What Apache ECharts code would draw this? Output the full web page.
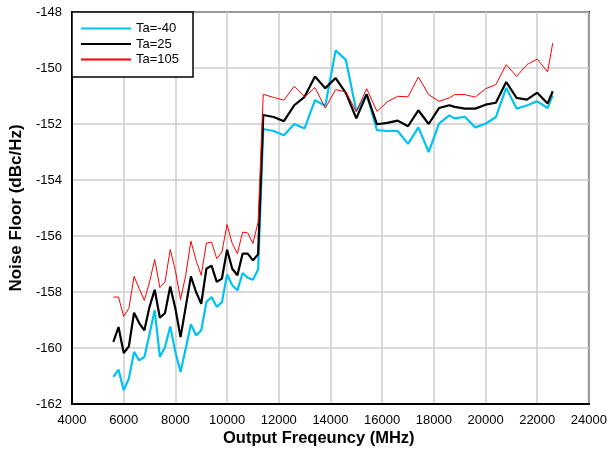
<!DOCTYPE html>
<html>
<head>
<meta charset="utf-8">
<script src="https://cdn.jsdelivr.net/npm/echarts@6/dist/echarts.min.js"></script>
<style>
html,body{margin:0;padding:0;background:#fff;}
#chart{width:610px;height:453px;}
</style>
</head>
<body>
<div id="chart"></div>
<script>
// Output frequency (MHz)
const freqs = [5600,5800,6000,6200,6400,6600,6800,7000,7200,7400,7600,7800,8000,8200,8400,8600,8800,9000,9200,9400,9600,9800,10000,10200,10400,10600,10800,11000,11200,
  11400,11800,12200,12600,13000,13400,13800,14200,14600,15000,15400,15800,16200,16600,17000,17400,17800,18200,18600,18800,19200,19600,20000,20400,20800,21200,21600,22000,22400,22600];

// Noise floor (dBc/Hz)
const taMinus40 = [-161.03,-160.77,-161.51,-161.09,-160.14,-160.44,-160.32,-159.49,-158.65,-160.32,-159.96,-159.23,-160.14,-160.86,-160.02,-159.15,-159.55,-159.37,-158.36,-158.18,-158.53,-158.36,-157.37,-157.76,-157.94,-157.32,-157.49,-157.56,-157.20,
  -152.18,-152.25,-152.40,-152.00,-152.16,-151.15,-151.35,-149.37,-149.72,-151.54,-150.93,-152.22,-152.25,-152.25,-152.71,-152.12,-153.00,-151.99,-151.69,-151.80,-151.74,-152.12,-151.99,-151.75,-150.71,-151.45,-151.34,-151.19,-151.43,-150.98];

const ta25 = [-159.78,-159.25,-160.18,-159.94,-158.74,-159.11,-159.37,-158.53,-157.92,-158.92,-158.75,-157.80,-158.59,-159.61,-158.53,-157.44,-158.00,-158.42,-157.17,-157.06,-157.64,-157.52,-156.49,-157.17,-157.40,-156.63,-156.63,-156.87,-156.65,
  -151.68,-151.75,-151.90,-151.33,-151.03,-150.30,-150.72,-150.36,-150.90,-151.80,-150.94,-152.01,-151.96,-151.88,-152.08,-151.51,-152.00,-151.43,-151.33,-151.39,-151.45,-151.45,-151.31,-151.24,-150.50,-151.07,-151.13,-150.88,-151.27,-150.83];

const ta105 = [-158.18,-158.18,-158.87,-158.59,-157.44,-157.88,-158.30,-157.64,-156.84,-157.84,-157.64,-156.48,-157.23,-158.27,-157.40,-156.18,-156.87,-157.40,-156.25,-156.22,-156.81,-156.57,-155.59,-156.27,-156.63,-155.86,-155.89,-156.27,-155.50,
  -150.94,-151.05,-151.15,-150.65,-151.03,-150.70,-151.43,-150.77,-150.86,-151.56,-150.74,-151.55,-151.21,-151.01,-151.03,-150.32,-150.95,-151.19,-151.07,-150.95,-150.95,-151.04,-150.74,-150.59,-149.88,-150.30,-149.88,-149.68,-150.14,-149.11];

const seriesNames = ['Ta=-40','Ta=25','Ta=105'];
const seriesValues = [taMinus40, ta25, ta105];
const seriesColors = ['#00c3f2','#000000','#ff0000'];
const seriesWidths = [2.2, 2.2, 1];

const FONT = 'Liberation Sans, Arial, Helvetica, sans-serif';

const chart = echarts.init(document.getElementById('chart'), null, {renderer:'canvas'});
chart.setOption({
  animation:false,
  backgroundColor:'#ffffff',
  grid:{left:72, right:18, top:12, bottom:49, show:true, borderColor:'#000', borderWidth:2, backgroundColor:'transparent'},
  legend:{
    data:seriesNames, orient:'vertical', left:72, top:12,
    itemWidth:50, itemHeight:14, itemGap:2.5,
    padding:[10,14,11,8],
    itemStyle:{opacity:0},
    backgroundColor:'#fff', borderColor:'#000', borderWidth:1.5,
    textStyle:{fontFamily:FONT, fontSize:13, color:'#000'}
  },
  xAxis:{
    type:'value', min:4000, max:24000, interval:2000,
    axisLine:{show:true, lineStyle:{color:'#000', width:2}},
    axisTick:{show:false},
    splitLine:{show:true, lineStyle:{color:'#cccccc', width:1.5}},
    axisLabel:{fontFamily:FONT, fontSize:13, color:'#000', margin:10, formatter:(v)=>String(v)}
  },
  yAxis:{
    type:'value', min:-162, max:-148, interval:2,
    name:'Noise Floor (dBc/Hz)', nameLocation:'middle', nameGap:47,
    nameTextStyle:{fontFamily:FONT, fontSize:17, fontWeight:'bold', color:'#000'},
    axisLine:{show:true, lineStyle:{color:'#000', width:2}},
    axisTick:{show:false},
    splitLine:{show:true, lineStyle:{color:'#cccccc', width:1.5}},
    axisLabel:{fontFamily:FONT, fontSize:13, color:'#000', margin:10, formatter:(v)=>String(v)}
  },
  graphic:[{
    type:'text', left:223, top:430,
    style:{text:'Output Freqeuncy (MHz)', font:'bold 16.5px ' + FONT, fill:'#000'}
  }],
  series: seriesNames.map((n,i)=>({
    name:n, type:'line', symbol:'none', showSymbol:false,
    data: freqs.map((f,j)=>[f, seriesValues[i][j]]),
    lineStyle:{color:seriesColors[i], width:seriesWidths[i]},
    itemStyle:{color:seriesColors[i]},
    z: 2+i
  }))
});
</script>
</body>
</html>
